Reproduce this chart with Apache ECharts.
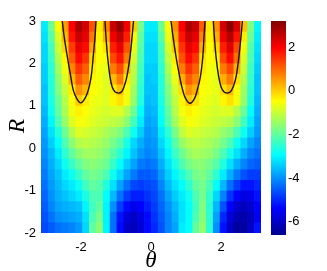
<!DOCTYPE html>
<html><head><meta charset="utf-8">
<script src="https://cdn.jsdelivr.net/npm/echarts@6/dist/echarts.min.js"></script>
<style>html,body{margin:0;padding:0;background:#fff}#c{width:327px;height:271px}</style>
</head><body><div id="c"></div>
<script>
// cell centres
const thetaCenters = [-3.043,-2.847,-2.651,-2.454,-2.258,-2.062,-1.865,-1.669,-1.473,-1.276,-1.080,-0.884,-0.687,-0.491,-0.295,-0.098,
  0.098,0.295,0.491,0.687,0.884,1.080,1.276,1.473,1.669,1.865,2.062,2.258,2.454,2.651,2.847,3.043];
const rCenters = [2.875,2.625,2.375,2.125,1.875,1.625,1.375,1.125,0.875,0.625,0.375,0.125,-0.125,-0.375,-0.625,-0.875,-1.125,-1.375,-1.625,-1.875];
const cellW = 0.19635, cellH = 0.25;

// field values, one row per R centre (left to right in theta)
const z_2875 = [-3.1,-1.9,-0.5,0.5,2.0,2.8,2.4,1.2,-0.3,0.7,2.5,3.0,2.1,0.0,-1.8,-3.1, -3.1,-1.9,-0.5,0.6,2.0,2.8,2.5,1.1,-0.3,0.6,2.4,3.1,2.3,0.1,-1.7,-3.0];
const z_2625 = [-3.2,-2.1,-0.8,0.2,1.8,2.5,2.2,0.8,-0.4,0.3,2.1,2.6,1.7,-0.4,-2.0,-3.2, -3.2,-2.1,-0.7,0.3,1.8,2.5,2.2,0.7,-0.4,0.3,2.1,2.7,1.8,-0.3,-1.9,-3.1];
const z_2375 = [-3.3,-2.3,-1.0,-0.1,1.4,2.2,1.9,0.4,-0.5,-0.2,1.7,2.2,1.2,-0.7,-2.1,-3.3, -3.3,-2.3,-0.9,0.0,1.5,2.2,1.9,0.3,-0.5,-0.1,1.7,2.3,1.3,-0.6,-2.1,-3.2];
const z_2125 = [-3.3,-2.4,-1.2,-0.4,1.1,1.9,1.5,-0.1,-0.5,-0.5,1.3,1.8,0.8,-0.9,-2.2,-3.3, -3.3,-2.4,-1.1,-0.3,1.2,1.9,1.5,-0.2,-0.5,-0.4,1.3,1.9,0.9,-0.8,-2.2,-3.3];
const z_1875 = [-3.4,-2.5,-1.4,-0.6,0.7,1.5,1.1,-0.3,-0.6,-0.7,0.8,1.3,0.2,-1.1,-2.3,-3.4, -3.4,-2.5,-1.3,-0.5,0.8,1.5,1.1,-0.3,-0.6,-0.6,0.8,1.3,0.3,-1.0,-2.3,-3.4];
const z_1625 = [-3.4,-2.6,-1.6,-0.8,0.2,1.1,0.7,-0.4,-0.6,-0.8,0.2,0.8,-0.3,-1.2,-2.4,-3.5, -3.4,-2.6,-1.5,-0.7,0.3,1.1,0.7,-0.4,-0.6,-0.7,0.3,0.8,-0.2,-1.2,-2.4,-3.5];
const z_1375 = [-3.5,-2.6,-1.7,-1.0,-0.3,0.6,0.25,-0.5,-0.6,-0.8,-0.3,0.15,-0.5,-1.4,-2.5,-3.5, -3.5,-2.6,-1.7,-0.9,-0.2,0.6,0.3,-0.5,-0.6,-0.7,-0.2,0.2,-0.5,-1.4,-2.5,-3.5];
const z_1125 = [-3.5,-2.7,-1.9,-1.2,-0.5,0.05,-0.3,-0.6,-0.7,-0.8,-0.4,-0.2,-0.6,-1.5,-2.6,-3.6, -3.5,-2.7,-1.8,-1.1,-0.4,0.1,-0.2,-0.6,-0.7,-0.8,-0.4,-0.2,-0.6,-1.5,-2.6,-3.6];
const z_0875 = [-3.6,-2.8,-2.0,-1.3,-0.6,-0.35,-0.5,-0.7,-0.8,-0.9,-0.8,-0.8,-1.2,-1.9,-2.9,-3.7, -3.6,-2.8,-2.0,-1.2,-0.6,-0.35,-0.5,-0.7,-0.8,-0.9,-0.8,-0.8,-1.2,-1.9,-2.9,-3.7];
const z_0625 = [-3.7,-3.0,-2.2,-1.5,-0.8,-0.55,-0.6,-0.8,-0.9,-1.0,-1.1,-1.2,-1.6,-2.3,-3.1,-3.8, -3.7,-2.9,-2.1,-1.4,-0.8,-0.55,-0.6,-0.8,-0.9,-1.0,-1.1,-1.2,-1.6,-2.3,-3.1,-3.8];
const z_0375 = [-3.8,-3.2,-2.6,-1.9,-1.2,-0.8,-0.9,-1.0,-1.1,-1.3,-1.5,-1.7,-2.2,-2.8,-3.4,-3.9, -3.8,-3.1,-2.5,-1.8,-1.1,-0.8,-0.9,-1.0,-1.1,-1.2,-1.5,-1.7,-2.2,-2.8,-3.4,-3.9];
const z_0125 = [-3.9,-3.4,-2.9,-2.2,-1.6,-1.2,-1.1,-1.2,-1.3,-1.5,-1.8,-2.1,-2.7,-3.3,-3.7,-4.0, -3.9,-3.3,-2.8,-2.1,-1.5,-1.2,-1.1,-1.2,-1.3,-1.5,-1.8,-2.2,-2.8,-3.3,-3.8,-4.1];
const z_m0125 = [-4.0,-3.6,-3.1,-2.5,-2.0,-1.6,-1.4,-1.4,-1.5,-1.7,-2.1,-2.5,-3.0,-3.5,-3.9,-4.1, -4.0,-3.5,-3.0,-2.4,-1.9,-1.5,-1.3,-1.4,-1.5,-1.8,-2.2,-2.7,-3.2,-3.7,-4.1,-4.3];
const z_m0375 = [-4.1,-3.7,-3.3,-2.8,-2.4,-2.0,-1.7,-1.6,-1.7,-1.9,-2.4,-2.9,-3.4,-3.8,-4.2,-4.3, -4.2,-3.7,-3.2,-2.7,-2.2,-1.8,-1.6,-1.6,-1.8,-2.1,-2.6,-3.2,-3.7,-4.1,-4.4,-4.5];
const z_m0625 = [-4.2,-3.8,-3.5,-3.1,-2.8,-2.4,-2.0,-1.8,-1.9,-2.2,-2.8,-3.3,-3.8,-4.2,-4.5,-4.5, -4.4,-3.9,-3.4,-3.0,-2.6,-2.2,-1.8,-1.7,-2.0,-2.5,-3.1,-3.7,-4.2,-4.6,-4.8,-4.8];
const z_m0875 = [-4.3,-3.9,-3.6,-3.3,-3.1,-2.8,-2.3,-2.0,-2.1,-2.6,-3.2,-3.8,-4.3,-4.7,-4.8,-4.7, -4.6,-4.1,-3.6,-3.2,-2.9,-2.5,-2.0,-1.8,-2.2,-2.9,-3.6,-4.3,-4.8,-5.2,-5.2,-5.0];
const z_m1125 = [-4.4,-4.0,-3.7,-3.5,-3.3,-3.1,-2.7,-2.2,-2.2,-2.9,-3.6,-4.3,-4.8,-5.1,-5.1,-4.9, -4.7,-4.3,-3.8,-3.4,-3.1,-2.8,-2.2,-1.8,-2.4,-3.3,-4.1,-4.9,-5.4,-5.7,-5.6,-5.2];
const z_m1375 = [-4.5,-4.1,-3.8,-3.7,-3.6,-3.5,-3.0,-2.3,-2.0,-3.0,-4.0,-4.8,-5.3,-5.6,-5.4,-5.1, -4.8,-4.4,-4.0,-3.6,-3.2,-2.9,-2.3,-1.7,-2.5,-3.6,-4.6,-5.4,-5.9,-6.1,-5.9,-5.4];
const z_m1625 = [-4.6,-4.3,-4.0,-3.9,-3.8,-3.7,-3.2,-2.2,-1.8,-3.0,-4.3,-5.2,-5.8,-6.0,-5.7,-5.3, -4.9,-4.5,-4.1,-3.7,-3.2,-2.9,-2.2,-1.6,-2.5,-3.8,-5.0,-5.8,-6.2,-6.3,-6.1,-5.5];
const z_m1875 = [-4.7,-4.5,-4.3,-4.2,-4.1,-3.9,-3.3,-2.0,-1.6,-3.0,-4.3,-5.3,-6.0,-6.1,-5.8,-5.3, -5.0,-4.6,-4.1,-3.8,-3.1,-2.9,-2.0,-1.5,-2.5,-4.0,-5.2,-6.0,-6.4,-6.4,-6.0,-5.2];
const zRows = [z_2875,z_2625,z_2375,z_2125,z_1875,z_1625,z_1375,z_1125,z_0875,z_0625,z_0375,z_0125,
  z_m0125,z_m0375,z_m0625,z_m0875,z_m1125,z_m1375,z_m1625,z_m1875];

// zero contour, [theta, R]
const contour1 = [[-2.534,3],[-2.48,2.63],[-2.39,2.16],[-2.29,1.68],[-2.22,1.37],[-2.12,1.17],[-2.01,1.07],[-1.89,1.17],[-1.79,1.37],[-1.71,1.68],[-1.65,2.16],[-1.60,2.63],[-1.57,3]];
const contour2 = [[-1.314,3],[-1.286,2.63],[-1.24,2.16],[-1.17,1.68],[-1.11,1.45],[-1.03,1.33],[-0.93,1.30],[-0.84,1.33],[-0.77,1.45],[-0.69,1.68],[-0.60,2.16],[-0.54,2.63],[-0.50,3]];
const contour3 = [[0.571,3],[0.63,2.63],[0.714,2.16],[0.82,1.68],[0.905,1.37],[0.99,1.17],[1.114,1.06],[1.24,1.17],[1.32,1.37],[1.41,1.68],[1.48,2.16],[1.514,2.63],[1.543,3]];
const contour4 = [[1.78,3],[1.81,2.63],[1.857,2.16],[1.934,1.68],[2.0,1.45],[2.08,1.33],[2.18,1.30],[2.27,1.33],[2.35,1.45],[2.43,1.68],[2.51,2.16],[2.57,2.63],[2.61,3]];

const xTicks = [-2, 0, 2];
const cbTicks = [-6, -4, -2, 0, 2];
const cbMin = -6.6, cbMax = 3.2;
const jet = ['#00008f','#0000ff','#0080ff','#00ffff','#80ff80','#ffff00','#ff8000','#ff0000','#800000'];

const cells = [];
rCenters.forEach((r, i) => thetaCenters.forEach((t, j) => cells.push([t, r, zRows[i][j]])));

const chart = echarts.init(document.getElementById('c'), null, {renderer: 'canvas'});
const numFont = {fontFamily: 'Liberation Sans, Arial, sans-serif', fontSize: 13, color: '#000'};
const mathFontCss = 'italic 23px "Liberation Serif", "Times New Roman", serif';
const contourLine = d => ({type: 'line', data: d, smooth: 0.4, symbol: 'none', xAxisIndex: 0, yAxisIndex: 0,
  lineStyle: {color: '#151515', width: 1.4}, silent: true, z: 5});

chart.setOption({
  animation: false,
  backgroundColor: '#fff',
  grid: [
    {left: 41, top: 21, width: 220, height: 212, containLabel: false, outerBoundsMode: 'none'},
    {left: 271, top: 21, width: 15, height: 214, containLabel: false, outerBoundsMode: 'none'}
  ],
  xAxis: [
    {type: 'value', gridIndex: 0, min: -Math.PI, max: Math.PI,
     axisLine: {show: false}, axisTick: {show: false}, splitLine: {show: false},
     axisLabel: Object.assign({customValues: xTicks, margin: 8}, numFont)},
    {type: 'value', gridIndex: 1, min: 0, max: 1, show: false}
  ],
  yAxis: [
    {type: 'value', gridIndex: 0, min: -2, max: 3, interval: 1,
     axisLine: {show: false}, axisTick: {show: false}, splitLine: {show: false},
     axisLabel: Object.assign({margin: 5}, numFont)},
    {type: 'value', gridIndex: 1, min: cbMin, max: cbMax, position: 'right',
     axisLine: {show: false}, axisTick: {show: false}, splitLine: {show: false},
     axisLabel: Object.assign({customValues: cbTicks, margin: 2}, numFont)}
  ],
  graphic: [
    {type: 'text', x: 151, y: 261, style: {text: 'θ', font: mathFontCss, fill: '#000', align: 'center', verticalAlign: 'middle'}},
    {type: 'text', x: 18, y: 126, rotation: Math.PI / 2, style: {text: 'R', font: mathFontCss, fill: '#000', align: 'center', verticalAlign: 'middle'}}
  ],
  visualMap: {type: 'continuous', show: false, min: cbMin, max: cbMax, dimension: 2, seriesIndex: 0,
    inRange: {color: jet}},
  series: [
    {type: 'custom', xAxisIndex: 0, yAxisIndex: 0, data: cells, clip: true, silent: true,
     renderItem: (params, api) => {
       const t = api.value(0), r = api.value(1);
       const p0 = api.coord([t - cellW / 2, r + cellH / 2]);
       const p1 = api.coord([t + cellW / 2, r - cellH / 2]);
       return {type: 'rect', shape: {x: p0[0], y: p0[1], width: p1[0] - p0[0] + 0.7, height: p1[1] - p0[1] + 0.7},
         style: {fill: api.visual('color')}};
     }},
    contourLine(contour1), contourLine(contour2), contourLine(contour3), contourLine(contour4),
    {type: 'custom', xAxisIndex: 1, yAxisIndex: 1, data: [[0, cbMin]], silent: true,
     renderItem: (params, api) => {
       const p0 = api.coord([0, cbMax]);
       const p1 = api.coord([1, cbMin]);
       const stops = jet.slice().reverse().map((c, i, a) => ({offset: i / (a.length - 1), color: c}));
       return {type: 'rect', shape: {x: p0[0], y: p0[1], width: p1[0] - p0[0], height: p1[1] - p0[1]},
         style: {fill: new echarts.graphic.LinearGradient(0, 0, 0, 1, stops)}};
     }}
  ]
});
</script></body></html>
